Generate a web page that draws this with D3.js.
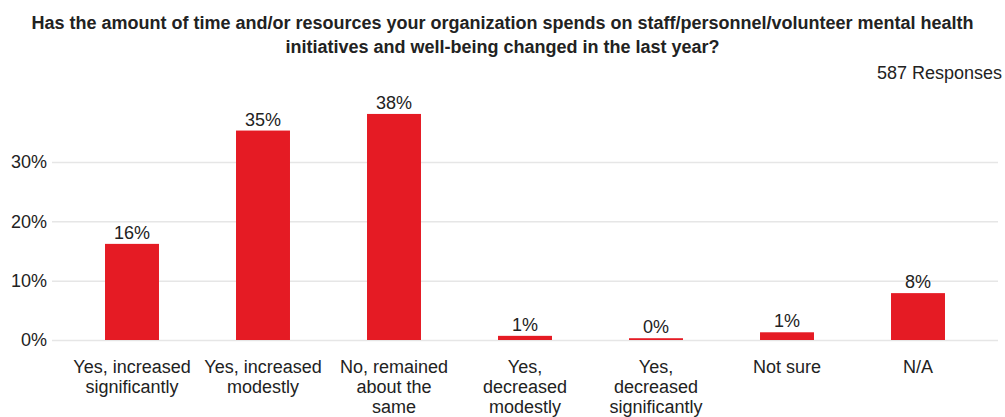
<!DOCTYPE html>
<html>
<head>
<meta charset="utf-8">
<script src="https://cdn.jsdelivr.net/npm/d3@7"></script>
<style>
  html, body { margin: 0; padding: 0; background: #fff; }
  svg { display: block; font-family: "Liberation Sans", Arial, Helvetica, sans-serif; }
</style>
</head>
<body>
<svg id="chart" width="1005" height="417"></svg>
<script>
// Survey answers and their share of responses (percent)
const categories = [
  ["Yes, increased", "significantly"],
  ["Yes, increased", "modestly"],
  ["No, remained", "about the", "same"],
  ["Yes,", "decreased", "modestly"],
  ["Yes,", "decreased", "significantly"],
  ["Not sure"],
  ["N/A"]
];
const values = [16.2, 35.3, 38.1, 0.7, 0.3, 1.3, 7.9];
const yTicks = [0, 10, 20, 30];
const titleLines = [
  "Has the amount of time and/or resources your organization spends on staff/personnel/volunteer mental health",
  "initiatives and well-being changed in the last year?"
];
const responsesLabel = "587 Responses";

const svg = d3.select("#chart");
const W = 1005;
const barColor = "#e51b24";
const textColor = "#222";
const fs = 18;

const x = d3.scaleBand()
  .domain(d3.range(categories.length))
  .range([66.5, 983.5])
  .paddingInner(0.588)
  .paddingOuter(0.294);

const y = d3.scaleLinear()
  .domain([0, 30])
  .range([340, 162]);

// Title
svg.append("g").selectAll("text")
  .data(titleLines)
  .join("text")
  .attr("x", W / 2)
  .attr("y", (d, i) => 28.5 + i * 24)
  .attr("text-anchor", "middle")
  .attr("font-size", 18)
  .attr("font-weight", "bold")
  .attr("fill", textColor)
  .text(d => d);

svg.append("text")
  .attr("x", 1002)
  .attr("y", 78.5)
  .attr("text-anchor", "end")
  .attr("font-size", fs)
  .attr("fill", textColor)
  .text(responsesLabel);

// Gridlines and y labels
const yAxis = d3.axisLeft(y)
  .tickValues(yTicks)
  .tickSize(-(998 - 52))
  .tickFormat(d => d + "%");

const gy = svg.append("g")
  .attr("transform", "translate(52,0)")
  .call(yAxis);
gy.select(".domain").remove();
gy.selectAll(".tick line").attr("stroke", "#e6e6e6").attr("stroke-width", 1.5);
gy.selectAll(".tick text")
  .attr("x", -5)
  .attr("font-size", fs)
  .attr("fill", textColor)
  .attr("font-family", "Liberation Sans, Arial, sans-serif");

// Bars
svg.append("g").selectAll("rect")
  .data(values)
  .join("rect")
  .attr("x", (d, i) => x(i))
  .attr("width", x.bandwidth())
  .attr("y", d => y(d))
  .attr("height", d => y(0) - y(d))
  .attr("fill", barColor);

// Value labels
svg.append("g").selectAll("text")
  .data(values)
  .join("text")
  .attr("x", (d, i) => x(i) + x.bandwidth() / 2)
  .attr("y", d => y(d) - 5)
  .attr("text-anchor", "middle")
  .attr("font-size", fs)
  .attr("fill", textColor)
  .text(d => Math.round(d) + "%");

// Category labels
const xLabels = svg.append("g").selectAll("text")
  .data(categories)
  .join("text")
  .attr("x", (d, i) => x(i) + x.bandwidth() / 2)
  .attr("y", 372.5)
  .attr("text-anchor", "middle")
  .attr("font-size", fs)
  .attr("fill", textColor);

xLabels.selectAll("tspan")
  .data((d, i) => d.map(line => ({ line, i })))
  .join("tspan")
  .attr("x", d => x(d.i) + x.bandwidth() / 2)
  .attr("dy", (d, j) => j === 0 ? 0 : 20)
  .text(d => d.line);
</script>
</body>
</html>
